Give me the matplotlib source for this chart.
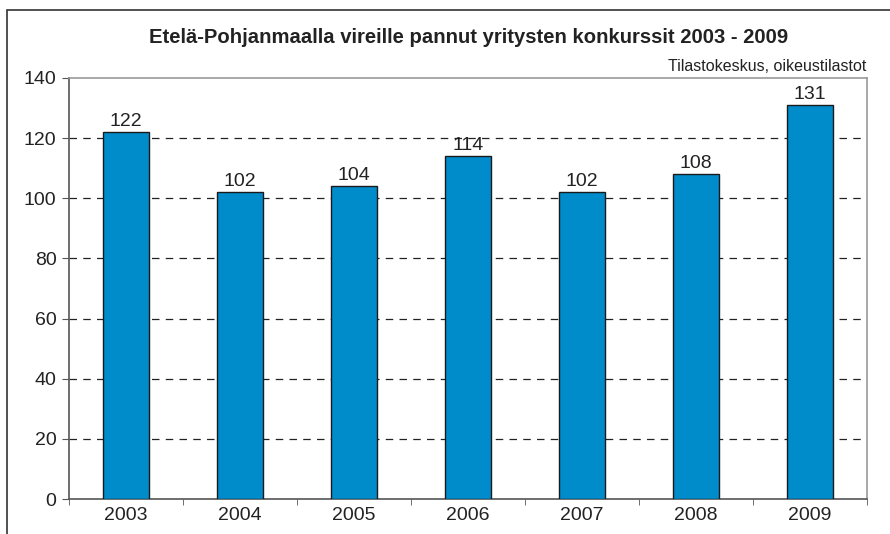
import matplotlib.pyplot as plt
from matplotlib.patches import Rectangle

years = ["2003", "2004", "2005", "2006", "2007", "2008", "2009"]
konkurssit = [122, 102, 104, 114, 102, 108, 131]

plt.rcParams['font.family'] = ['Liberation Sans', 'DejaVu Sans']

fig = plt.figure(figsize=(8.9, 5.34), dpi=100)
ax = fig.add_axes([0.0775, 0.0655, 0.8966, 0.7885])

# ulkokehys, joka jatkuu kuvan reunojen yli
fig.patches.append(Rectangle((7 / 890, -0.1), 1.2, (534 - 10) / 534 + 0.1,
                             transform=fig.transFigure, fill=False,
                             edgecolor="#333333", linewidth=1.2))

x = range(len(years))
ax.bar(x, konkurssit, width=0.4, color="#008BCB", edgecolor="#1a1a1a",
       linewidth=1, zorder=3)
for xi, v in zip(x, konkurssit):
    ax.text(xi, v + 0.8, str(v), ha="center", va="bottom", fontsize=14,
            color="#222222", zorder=4)

ax.set_xlim(-0.5, len(years) - 0.5)
ax.set_ylim(0, 140)
ax.set_yticks(range(0, 141, 20))
ax.set_xticks(list(x))
ax.set_xticklabels(years)
ax.set_xticks([i + 0.5 for i in range(-1, len(years))], minor=True)
ax.tick_params(axis="x", which="major", length=0, labelsize=14,
               labelcolor="#222222", pad=6)
ax.tick_params(axis="x", which="minor", length=4, color="#555555")
ax.tick_params(axis="y", length=5, color="#555555", labelsize=14,
               labelcolor="#222222", pad=4)

ax.yaxis.grid(True, linestyle=(0, (6, 5)), color="#222222", linewidth=0.9,
              zorder=1)
ax.set_axisbelow(True)
gl = ax.get_ygridlines()
gl[0].set_visible(False)
gl[-1].set_visible(False)

for side in ["left", "bottom"]:
    ax.spines[side].set_color("#555555")
    ax.spines[side].set_linewidth(1.2)
for side in ["top", "right"]:
    ax.spines[side].set_color("#999999")
    ax.spines[side].set_linewidth(1.2)

fig.text(0.527, 0.930, "Etelä-Pohjanmaalla vireille pannut yritysten konkurssit 2003 - 2009",
         ha="center", va="center", fontsize=14.6, fontweight="bold", color="#222222")
fig.text(0.974, 0.876, "Tilastokeskus, oikeustilastot", ha="right", va="center",
         fontsize=11.5, color="#222222")

fig.savefig("out.png", dpi=100)
